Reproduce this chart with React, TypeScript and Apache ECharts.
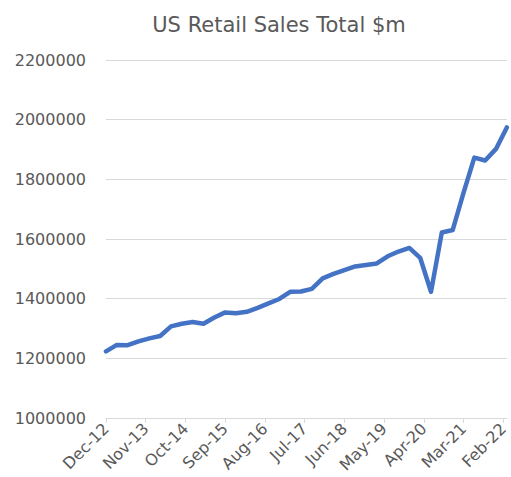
import React, { useEffect, useRef } from "react";
import * as echarts from "echarts";

const MONTHS = ["Jan", "Feb", "Mar", "Apr", "May", "Jun", "Jul", "Aug", "Sep", "Oct", "Nov", "Dec"];

// Quarterly observations, Dec-12 .. Mar-22
const quarterLabels = [
  "Dec-12", "Mar-13", "Jun-13", "Sep-13", "Dec-13", "Mar-14", "Jun-14", "Sep-14", "Dec-14",
  "Mar-15", "Jun-15", "Sep-15", "Dec-15", "Mar-16", "Jun-16", "Sep-16", "Dec-16", "Mar-17",
  "Jun-17", "Sep-17", "Dec-17", "Mar-18", "Jun-18", "Sep-18", "Dec-18", "Mar-19", "Jun-19",
  "Sep-19", "Dec-19", "Mar-20", "Jun-20", "Sep-20", "Dec-20", "Mar-21", "Jun-21", "Sep-21",
  "Dec-21", "Mar-22",
];
const salesValues = [
  1223500, 1245000, 1244000, 1257000, 1267000, 1275000, 1307000, 1316000, 1322000,
  1316000, 1337000, 1354000, 1351000, 1356000, 1369000, 1384000, 1399000, 1423000,
  1424000, 1433000, 1468000, 1483000, 1496000, 1508000, 1513000, 1518000, 1542000,
  1558000, 1570000, 1537000, 1423000, 1622000, 1630000, 1755000, 1873000, 1863000,
  1902000, 1974000,
];

const yMin = 1000000;
const yMax = 2200000;
const yStep = 200000;

// Monthly date axis categories Dec-12 .. Mar-22
function buildMonths(): string[] {
  const out: string[] = [];
  let m = 11;
  let y = 2012;
  while (true) {
    const label = `${MONTHS[m]}-${String(y).slice(2)}`;
    out.push(label);
    if (label === "Mar-22") break;
    m++;
    if (m > 11) {
      m = 0;
      y++;
    }
  }
  return out;
}

export default function App() {
  const ref = useRef<HTMLDivElement>(null);
  useEffect(() => {
    if (!ref.current) return;
    const chart = echarts.init(ref.current, null, { renderer: "svg" });
    const months = buildMonths();
    const lookup: Record<string, number> = {};
    quarterLabels.forEach((q, i) => (lookup[q] = salesValues[i]));
    const data = months.map((mm) => (mm in lookup ? lookup[mm] : null));
    const font = "'DejaVu Sans', sans-serif";
    chart.setOption({
      animation: false,
      backgroundColor: "#ffffff",
      title: {
        text: "US Retail Sales Total $m",
        left: 274,
        textAlign: "center",
        top: 9,
        textStyle: { fontFamily: font, fontSize: 21, fontWeight: "normal", color: "#595959" },
      },
      grid: { left: 106, right: 1, top: 60, bottom: 59, containLabel: false },
      xAxis: {
        type: "category",
        data: months,
        boundaryGap: false,
        axisLine: { show: true, lineStyle: { color: "#d9d9d9", width: 1 } },
        axisTick: { show: true, interval: 10, length: 5, lineStyle: { color: "#d9d9d9" } },
        axisLabel: {
          interval: 10,
          rotate: 45,
          margin: 8,
          fontFamily: font,
          fontSize: 16,
          color: "#595959",
        },
        splitLine: { show: false },
      },
      yAxis: {
        type: "value",
        min: yMin,
        max: yMax,
        interval: yStep,
        axisLine: { show: false },
        axisTick: { show: false },
        axisLabel: {
          margin: 20,
          fontFamily: font,
          fontSize: 16,
          color: "#595959",
          formatter: (v: number) => String(v),
        },
        splitLine: { show: true, lineStyle: { color: "#d9d9d9", width: 1 } },
      },
      series: [
        {
          type: "line",
          data,
          connectNulls: true,
          showSymbol: false,
          symbol: "none",
          lineStyle: { color: "#4472C4", width: 4.5, cap: "round", join: "round" },
        },
      ],
    });
    return () => chart.dispose();
  }, []);
  return (
    <div
      ref={ref}
      style={{ position: "fixed", left: 0, top: 0, width: 511, height: 477, background: "#fff" }}
    />
  );
}
